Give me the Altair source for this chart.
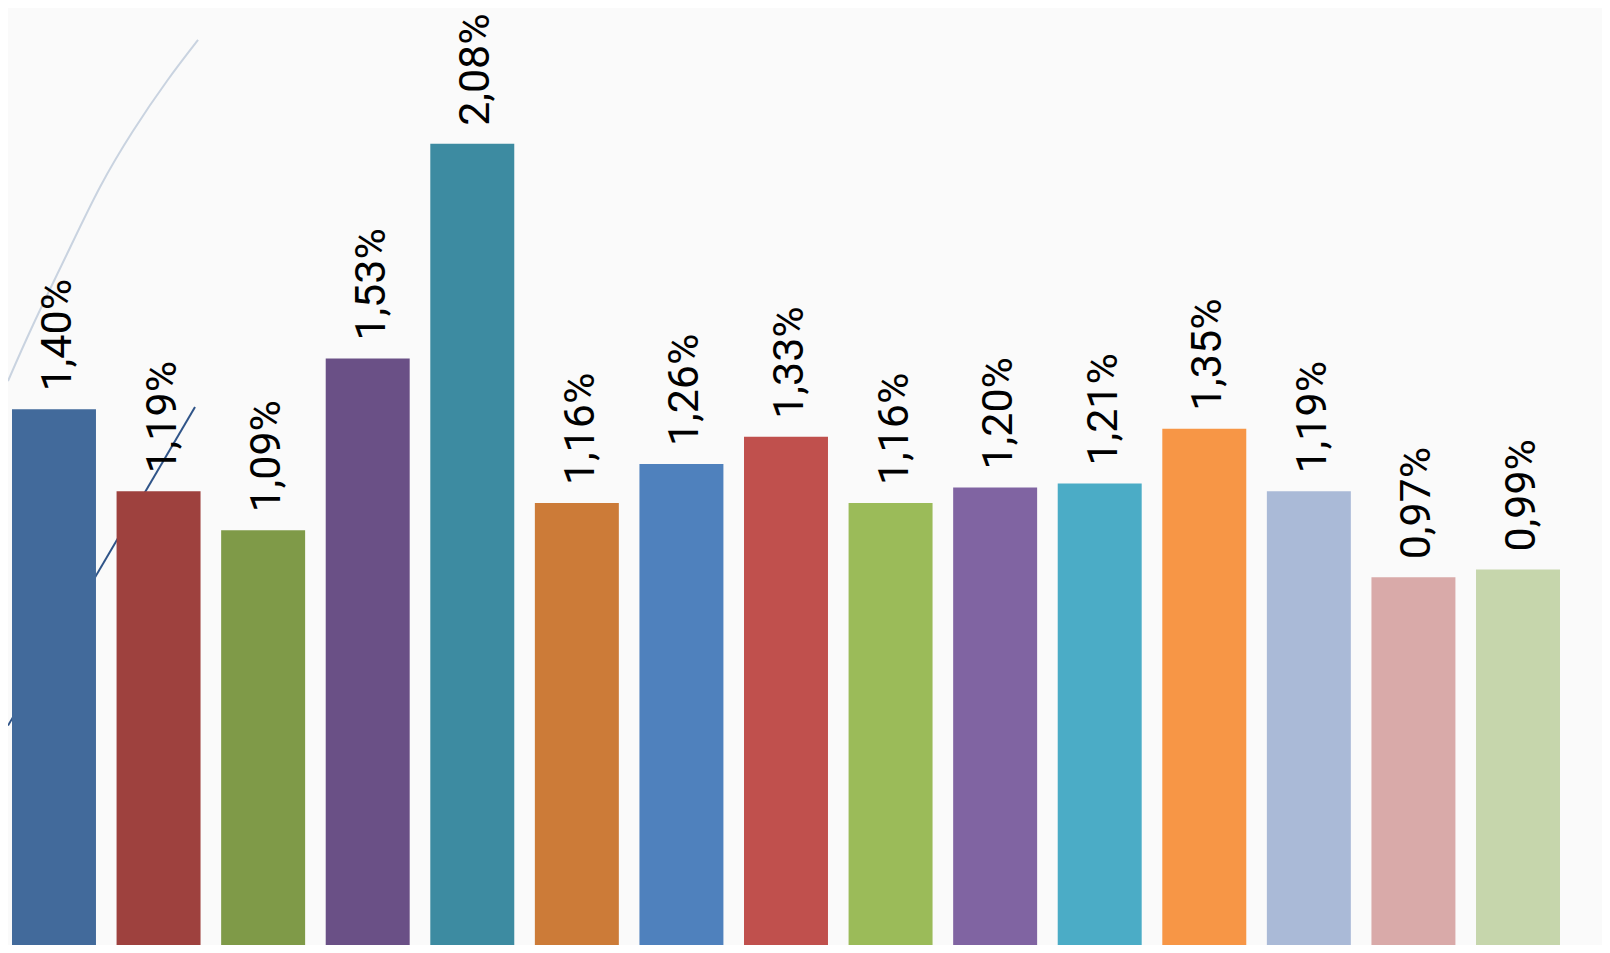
import altair as alt
import pandas as pd

# Data
categories = [f"K{i}" for i in range(1, 16)]
values = [1.40, 1.19, 1.09, 1.53, 2.08, 1.16, 1.26, 1.33, 1.16, 1.20, 1.21, 1.35, 1.19, 0.97, 0.99]
labels = ["1,40%", "1,19%", "1,09%", "1,53%", "2,08%", "1,16%", "1,26%", "1,33%",
          "1,16%", "1,20%", "1,21%", "1,35%", "1,19%", "0,97%", "0,99%"]
colors = ["#426A9B", "#9E413E", "#7F9A48", "#6A5086", "#3D8BA1", "#CC7B38", "#4F81BD",
          "#C0504D", "#9BBB59", "#8064A2", "#4BACC6", "#F79646", "#AABAD7", "#D9AAA9", "#C6D6AC"]

# Decorative background strokes (in bar-slot units / value units)
deco_dark_x = [-0.44, 1.348]
deco_dark_y = [0.590, 1.406]
deco_light_x = [-0.440, -0.201, 0.124, 0.440, 0.755, 1.080, 1.377]
deco_light_y = [1.4725, 1.6159, 1.7977, 1.9693, 2.1127, 2.2407, 2.3457]

df = pd.DataFrame({"cat": categories, "val": values, "lab": labels})
dark = pd.DataFrame({"u": deco_dark_x, "v": deco_dark_y})
light = pd.DataFrame({"u": deco_light_x, "v": deco_light_y})

W, H = 1594, 937
ydom = [0.0282, 2.4276]
yscale = alt.Scale(domain=ydom, zero=False, nice=False)
xq = alt.Scale(domain=[-0.44, 14.80], nice=False, zero=False)

light_line = alt.Chart(light).mark_line(
    color="#C9D3E0", strokeWidth=2, interpolate="natural", clip=True
).encode(
    x=alt.X("u:Q", scale=xq, axis=None),
    y=alt.Y("v:Q", scale=yscale, axis=None),
)

dark_line = alt.Chart(dark).mark_line(
    color="#2F5488", strokeWidth=2, clip=True
).encode(
    x=alt.X("u:Q", scale=xq, axis=None),
    y=alt.Y("v:Q", scale=yscale, axis=None),
)

xband = alt.X("cat:N", sort=categories, axis=None,
              scale=alt.Scale(paddingInner=0.197, paddingOuter=0.22, align=0.087))

bars = alt.Chart(df).mark_bar(clip=True).encode(
    x=xband,
    y=alt.Y("val:Q", scale=yscale, axis=None),
    color=alt.Color("cat:N", scale=alt.Scale(domain=categories, range=colors), legend=None),
)

text = alt.Chart(df).mark_text(
    angle=270, align="left", baseline="alphabetic", dx=18, dy=17,
    font="Roboto", fontSize=43, color="#000000"
).encode(
    x=xband,
    y=alt.Y("val:Q", scale=yscale, axis=None),
    text="lab:N",
)

decor = alt.layer(light_line, dark_line)
main = alt.layer(bars, text)

chart = alt.layer(decor, main).resolve_scale(x="independent").properties(
    width=W, height=H, padding=0, autosize=alt.AutoSizeParams(type="none"),
    background="#FAFAFA",
).configure_view(stroke=None)

chart.save("out.html", embed_options={"renderer": "svg", "actions": False})
